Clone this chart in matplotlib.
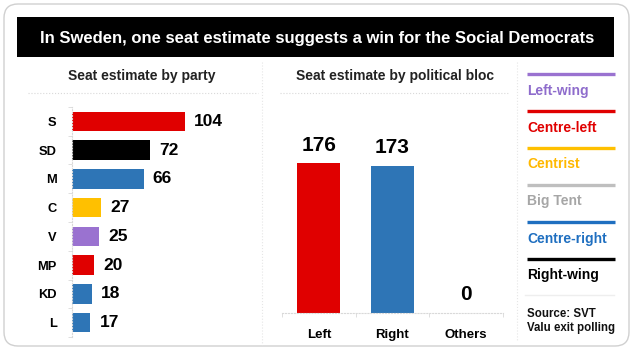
import matplotlib.pyplot as plt
from matplotlib.patches import FancyBboxPatch, Rectangle

plt.rcParams['font.family'] = ['Liberation Sans', 'DejaVu Sans']
plt.rcParams['font.weight'] = 'bold'

# datos
partidos = ['S', 'SD', 'M', 'C', 'V', 'MP', 'KD', 'L']
escanos = [104, 72, 66, 27, 25, 20, 18, 17]
colores_partido = ['#E00000', '#000000', '#2E75B6', '#FFC000', '#9A72D0', '#E00000', '#2E75B6', '#2E75B6']

bloques = ['Left', 'Right', 'Others']
escanos_bloque = [176, 173, 0]
colores_bloque = ['#E00000', '#2E75B6', '#2E75B6']

leyenda = ['Left-wing', 'Centre-left', 'Centrist', 'Big Tent', 'Centre-right', 'Right-wing']
colores_leyenda = ['#9A72D0', '#E00000', '#FFC000', '#BFBFBF', '#1F6FC0', '#000000']
colores_texto = ['#8E6CCC', '#E00000', '#FFB800', '#A6A6A6', '#1F6FC0', '#000000']

titulo = 'In Sweden, one seat estimate suggests a win for the Social Democrats'
fuente = 'Source: SVT\nValu exit polling'

W, H = 634, 351
fig = plt.figure(figsize=(W / 100, H / 100), dpi=100)


def caja(x0, y0, x1, y1):
    # pixeles (desde arriba) a fraccion de figura
    return [x0 / W, 1 - y1 / H, (x1 - x0) / W, (y1 - y0) / H]


fondo = fig.add_axes([0, 0, 1, 1])
fondo.set_xlim(0, W)
fondo.set_ylim(H, 0)
fondo.axis('off')

fondo.add_patch(FancyBboxPatch((4, 4), W - 9, H - 9, boxstyle='round,pad=0,rounding_size=14',
                               fc='white', ec='#D0D0D0', lw=1))
fondo.add_patch(Rectangle((17, 17), 597, 40, fc='black', ec='none'))
fondo.text(317, 38, titulo, color='white', fontsize=12, ha='center', va='center')

gris = '#D9D9D9'
fondo.plot([28, 258], [93, 93], color=gris, lw=0.8, ls=':')
fondo.plot([280, 508], [93, 93], color=gris, lw=0.8, ls=':')
fondo.plot([262, 262], [62, 345], color='#E6E6E6', lw=0.8, ls=':')
fondo.plot([517, 517], [62, 340], color='#E6E6E6', lw=0.8, ls=':')

fondo.text(142, 76, 'Seat estimate by party', fontsize=10, ha='center', va='center', color='#222222')
fondo.text(395, 76, 'Seat estimate by political bloc', fontsize=10, ha='center', va='center', color='#222222')

# barras por partido
ax1 = fig.add_axes(caja(72, 107, 240, 337))
ax1.barh(range(len(partidos)), escanos, height=0.67, color=colores_partido)
ax1.set_ylim(len(partidos) - 0.5, -0.5)
ax1.set_xlim(0, 168 / 1.085)
ax1.set_yticks(range(len(partidos)))
ax1.set_yticklabels(partidos, fontsize=9.3)
ax1.set_yticks([i + 0.5 for i in range(-1, len(partidos))], minor=True)
ax1.tick_params(axis='y', which='major', length=0, pad=11)
ax1.tick_params(axis='y', which='minor', length=3, color=gris)
ax1.set_xticks([])
for s in ['top', 'right', 'bottom']:
    ax1.spines[s].set_visible(False)
ax1.spines['left'].set_color(gris)
ax1.spines['left'].set_linestyle(':')
ax1.patch.set_alpha(0)
for i, v in enumerate(escanos):
    ax1.text(v + 8.5, i, str(v), fontsize=12.5, va='center', ha='left')

# barras por bloque
ax2 = fig.add_axes(caja(282, 100, 503, 313))
ax2.bar(range(len(bloques)), escanos_bloque, width=0.58, color=colores_bloque)
ax2.set_xlim(-0.5, len(bloques) - 0.5)
ax2.set_ylim(0, 250)
ax2.set_xticks(range(len(bloques)))
ax2.set_xticklabels(bloques, fontsize=9.5)
ax2.set_xticks([i + 0.5 for i in range(-1, len(bloques))], minor=True)
ax2.tick_params(axis='x', which='major', length=0, pad=11.5)
ax2.tick_params(axis='x', which='minor', length=3, color=gris)
ax2.set_yticks([])
for s in ['top', 'right', 'left']:
    ax2.spines[s].set_visible(False)
ax2.spines['bottom'].set_color(gris)
ax2.spines['bottom'].set_linestyle(':')
ax2.patch.set_alpha(0)
for i, v in enumerate(escanos_bloque):
    ax2.text(i, v + 10, str(v), fontsize=15, ha='center', va='bottom')

# leyenda
for i, (nombre, c, ct) in enumerate(zip(leyenda, colores_leyenda, colores_texto)):
    y = 74 + i * 37
    fondo.plot([527, 615], [y, y], color=c, lw=2.4, solid_capstyle='butt')
    fondo.text(527, y + 16.5, nombre, color=ct, fontsize=10, ha='left', va='center')
fondo.plot([525, 614], [295, 295], color='#EEEEEE', lw=1)
fondo.text(527, 321, fuente, fontsize=8.3, ha='left', va='center', linespacing=1.15, color='#111111')

fig.savefig('out.png', dpi=100)
